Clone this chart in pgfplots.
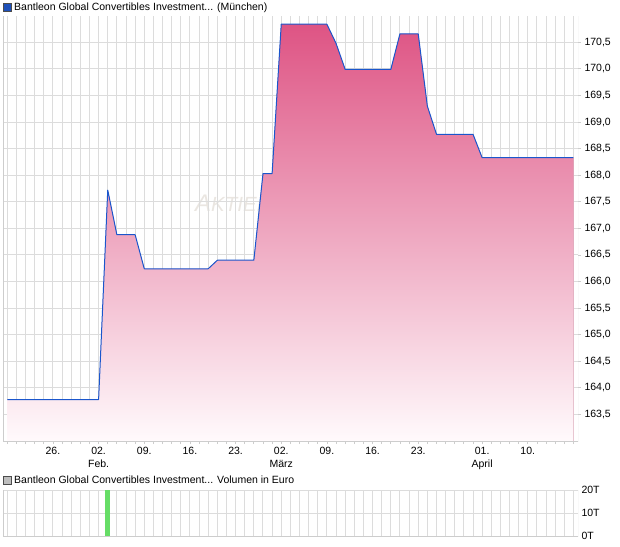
\documentclass[border=0pt]{standalone}
\usepackage{pgfplots}
\pgfplotsset{compat=1.18}
\usepackage{fontspec}
\setmainfont{Liberation Sans}

\definecolor{gridc}{RGB}{220,220,220}
\definecolor{framec}{RGB}{205,205,205}
\definecolor{lineblue}{RGB}{26,86,204}
\definecolor{pinktop}{RGB}{222,84,132}
\definecolor{pinkbot}{RGB}{255,250,252}
\definecolor{volgreen}{RGB}{102,221,102}
\definecolor{wmark}{RGB}{234,230,225}
\definecolor{sqblue}{RGB}{30,80,185}
\definecolor{sqgrey}{RGB}{190,190,190}

\newcommand{\fs}{\fontsize{10.5}{13}\selectfont}

\begin{document}
\begin{tikzpicture}[x=1pt,y=1pt]
\useasboundingbox (0,0) rectangle (620,546);

% watermark, under the grid
\node[anchor=base west, inner sep=0, text=wmark] at (195,334.3)
  {\itshape\fontsize{24}{24}\selectfont A\fontsize{20.5}{20.5}\selectfont KTIEN};

% titles
\draw[black!70, fill=sqblue] (3,535) rectangle (11,543);
\node[anchor=base west, inner sep=0, font=\fs] at (14,535.5)
  {Bantleon Global Convertibles Investment... (München)};
\draw[black!70, fill=sqgrey] (3,62) rectangle (11,70);
\node[anchor=base west, inner sep=0, font=\fs] at (14,62.5)
  {Bantleon Global Convertibles Investment... Volumen in Euro};

% price chart (x = trading day index, 0 = 19 Jan)
\begin{axis}[
  name=price,
  at={(7.3pt,105pt)}, anchor=origin,
  scale only axis, width=575pt, height=424.5pt,
  xmin=-0.47, xmax=62.5, ymin=163.0, ymax=170.985,
  axis line style={draw=none},
  no markers,
  xtick={5,10,15,20,25,30,35,40,45,52,57},
  xticklabels={26., {02.\\Feb.}, 09., 16., 23., {02.\\März}, 09., 16., 23., {01.\\April}, 10.},
  minor xtick={0,1,...,62},
  ytick={163.5,164,164.5,165,165.5,166,166.5,167,167.5,168,168.5,169,169.5,170,170.5},
  grid=both,
  major grid style={gridc, line width=1pt},
  minor grid style={gridc, line width=1pt},
  tick style={framec, line width=0.8pt},
  tick align=outside, major tick length=3pt, minor tick length=3pt,
  xtick pos=bottom, ytick pos=right,
  yticklabel pos=right,
  /pgf/number format/assume math mode=true,
  yticklabel style={/pgf/number format/.cd, fixed, fixed zerofill, precision=1, use comma},
  tick label style={font=\fs, text=black},
  xticklabel style={align=center},
]
\addplot[draw=none, fill=pinktop, shading=axis, top color=pinktop, bottom color=pinkbot] coordinates {
(0,163.0) (0,163.78) (1,163.78) (2,163.78) (3,163.78) (4,163.78) (5,163.78)
(6,163.78) (7,163.78) (8,163.78) (9,163.78) (10,163.78)
(11,167.72) (12,166.88) (13,166.88) (14,166.88)
(15,166.24) (16,166.24) (17,166.24) (18,166.24) (19,166.24) (20,166.24) (21,166.24) (22,166.24)
(23,166.40) (24,166.40) (25,166.40) (26,166.40) (27,166.40)
(28,168.03) (29,168.03)
(30,170.84) (31,170.84) (32,170.84) (33,170.84) (34,170.84) (35,170.84)
(36,170.48)
(37,169.99) (38,169.99) (39,169.99) (40,169.99) (41,169.99) (42,169.99)
(43,170.66) (44,170.66) (45,170.66)
(46,169.30)
(47,168.77) (48,168.77) (49,168.77) (50,168.77) (51,168.77)
(52,168.33) (53,168.33) (54,168.33) (55,168.33) (56,168.33) (57,168.33)
(58,168.33) (59,168.33) (60,168.33) (61,168.33) (62,168.33) (62,163.0)
};
\addplot[lineblue, line width=1pt, line join=round] coordinates {
(0,163.78) (1,163.78) (2,163.78) (3,163.78) (4,163.78) (5,163.78)
(6,163.78) (7,163.78) (8,163.78) (9,163.78) (10,163.78)
(11,167.72) (12,166.88) (13,166.88) (14,166.88)
(15,166.24) (16,166.24) (17,166.24) (18,166.24) (19,166.24) (20,166.24) (21,166.24) (22,166.24)
(23,166.40) (24,166.40) (25,166.40) (26,166.40) (27,166.40)
(28,168.03) (29,168.03)
(30,170.84) (31,170.84) (32,170.84) (33,170.84) (34,170.84) (35,170.84)
(36,170.48)
(37,169.99) (38,169.99) (39,169.99) (40,169.99) (41,169.99) (42,169.99)
(43,170.66) (44,170.66) (45,170.66)
(46,169.30)
(47,168.77) (48,168.77) (49,168.77) (50,168.77) (51,168.77)
(52,168.33) (53,168.33) (54,168.33) (55,168.33) (56,168.33) (57,168.33)
(58,168.33) (59,168.33) (60,168.33) (61,168.33) (62,168.33)
};
\draw[framec, line width=1pt] (rel axis cs:0,1) -- (rel axis cs:0,0) -- (rel axis cs:1,0) -- (rel axis cs:1,1);
\end{axis}

% volume chart
\begin{axis}[
  at={(7.3pt,10pt)}, anchor=origin,
  scale only axis, width=575pt, height=46pt,
  xmin=-0.47, xmax=62.5, ymin=0, ymax=20,
  axis line style={draw=none},
  xtick={0,1,...,62}, xticklabels={},
  ytick={0,10,20}, yticklabels={0T,10T,20T},
  grid=major,
  major grid style={gridc, line width=1pt},
  major tick length=0pt,
  yticklabel pos=right,
  tick label style={font=\fs, text=black},
]
\addplot[ybar, bar width=5pt, fill=volgreen, draw=none] coordinates {(11,20)};
\draw[framec, line width=1pt] (rel axis cs:0,1) -- (rel axis cs:0,0) -- (rel axis cs:1,0) -- (rel axis cs:1,1);
\end{axis}
\end{tikzpicture}
\end{document}
